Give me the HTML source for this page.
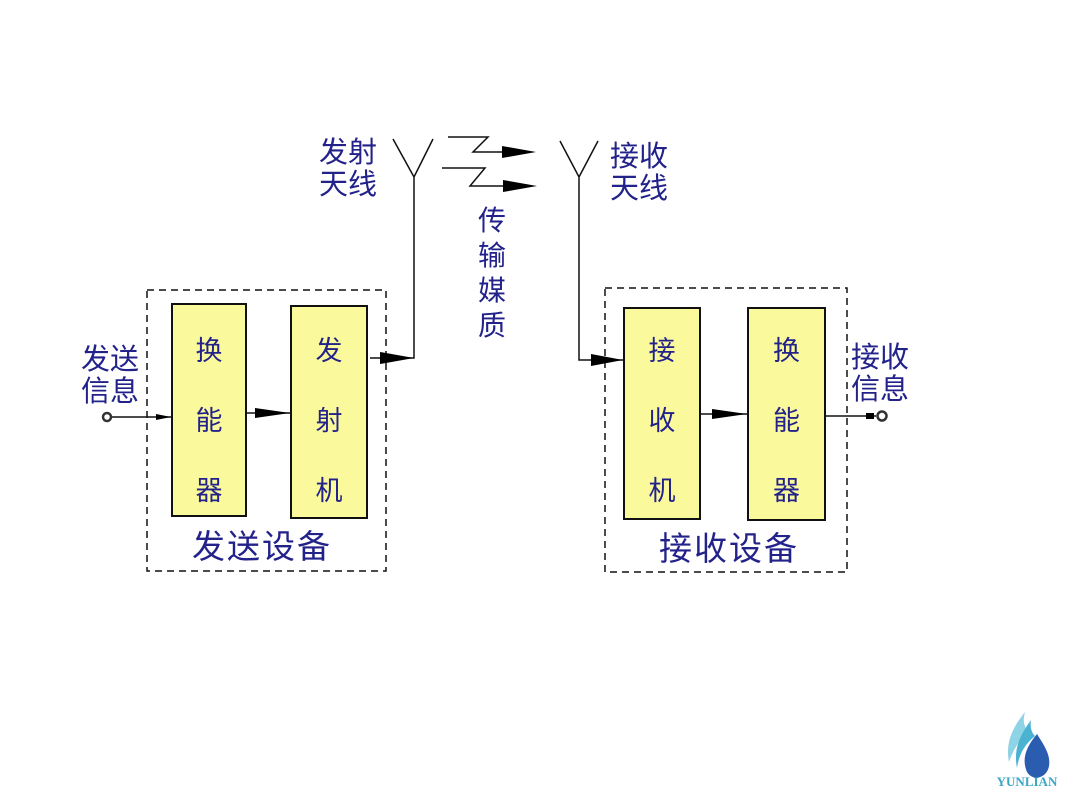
<!DOCTYPE html>
<html><head><meta charset="utf-8"><style>
body{margin:0;width:1080px;height:810px;background:#fff;overflow:hidden;position:relative;font-family:"Liberation Sans","Noto Sans CJK SC",sans-serif;}
.t{position:absolute;color:#22228a;font-family:"Noto Sans CJK SC","WenQuanYi Zen Hei",sans-serif;line-height:1;}
.box{position:absolute;background:#fafa9c;border:2px solid #111;box-sizing:border-box;}
.col{position:absolute;color:#22228a;font-size:27px;font-family:"Noto Sans CJK SC",sans-serif;text-align:center;line-height:70px;}
</style></head><body>
<svg width="1080" height="810" style="position:absolute;left:0;top:0">
<defs><marker id="a" markerWidth="10" markerHeight="6" refX="10" refY="3" orient="auto" markerUnits="userSpaceOnUse"><path d="M0,0 L10,3 L0,6z" fill="#000"/></marker></defs>
<g stroke="#111" stroke-width="1.5" fill="none">
<rect x="147" y="290" width="239" height="281" stroke-dasharray="7,5"/>
<rect x="605" y="288" width="242" height="284" stroke-dasharray="7,5"/>
<path d="M393,139 L414,177 L433,139 M414,177 L414,358 L370,358"/>
<path d="M560,141 L579,177 L598,141 M579,177 L579,360 L623,360"/>
<path d="M112,417 L171,417"/>
<path d="M246,413 L290,413"/>
<path d="M700,414 L747,414"/>
<path d="M825,416 L876,416"/>
<path d="M448,137 L488,137 L473,152 L510,152"/>
<path d="M442,168 L485,168 L470,186 L510,186"/>
</g>
<g fill="#000">
<path d="M380,352 L414,358 L380,364z"/>
<path d="M591,354 L623,360 L591,366z"/>
<path d="M255,408 L290,413 L255,418z"/>
<path d="M712,409 L747,414 L712,419z"/>
<path d="M502,146 L536,152 L502,158z"/>
<path d="M503,180 L537,186 L503,192z"/>
<path d="M156,414 L171,417 L156,420z"/>
<rect x="866" y="413" width="8" height="6"/>
</g>
<circle cx="107" cy="417" r="4" fill="none" stroke="#333" stroke-width="2.5"/>
<circle cx="882" cy="416" r="4.5" fill="none" stroke="#333" stroke-width="2.5"/>
<g transform="translate(1003,712)">
<path d="M22,0 C10,15 2,30 6,50 C10,38 16,28 26,20 C20,14 20,8 22,0z" fill="#8fd3e6"/>
<path d="M28,8 C18,22 10,36 14,56 C16,42 22,32 32,24 C28,20 27,14 28,8z" fill="#4bb3d1"/>
<path d="M34,22 C24,34 18,46 24,60 C30,70 44,66 46,54 C48,42 40,32 34,22z" fill="#2a5cb0"/>
</g>
<text x="1027" y="786" font-family="Liberation Serif,serif" font-weight="bold" font-size="13" fill="#3aa6c4" text-anchor="middle">YUNLIAN</text>
</svg>
<div class="box" style="left:171px;top:303px;width:76px;height:214px"></div>
<div class="box" style="left:290px;top:305px;width:78px;height:214px"></div>
<div class="box" style="left:623px;top:307px;width:78px;height:213px"></div>
<div class="box" style="left:747px;top:307px;width:79px;height:214px"></div>
<div class="col" style="left:171px;top:314px;width:76px">换<br>能<br>器</div>
<div class="col" style="left:290px;top:314px;width:78px">发<br>射<br>机</div>
<div class="col" style="left:623px;top:314px;width:78px">接<br>收<br>机</div>
<div class="col" style="left:747px;top:314px;width:79px">换<br>能<br>器</div>
<div class="t" style="left:319px;top:134px;font-size:29px;line-height:32px">发射<br>天线</div>
<div class="t" style="left:610px;top:138px;font-size:29px;line-height:32px">接收<br>天线</div>
<div class="t" style="left:81px;top:341px;font-size:29px;line-height:32px">发送<br>信息</div>
<div class="t" style="left:851px;top:339px;font-size:29px;line-height:32px">接收<br>信息</div>
<div class="t" style="left:478px;top:202px;font-size:28px;line-height:35px;width:30px">传<br>输<br>媒<br>质</div>
<div class="t" style="left:192px;top:528px;font-size:33px;letter-spacing:2px">发送设备</div>
<div class="t" style="left:659px;top:530px;font-size:33px;letter-spacing:2px">接收设备</div>
</body></html>
